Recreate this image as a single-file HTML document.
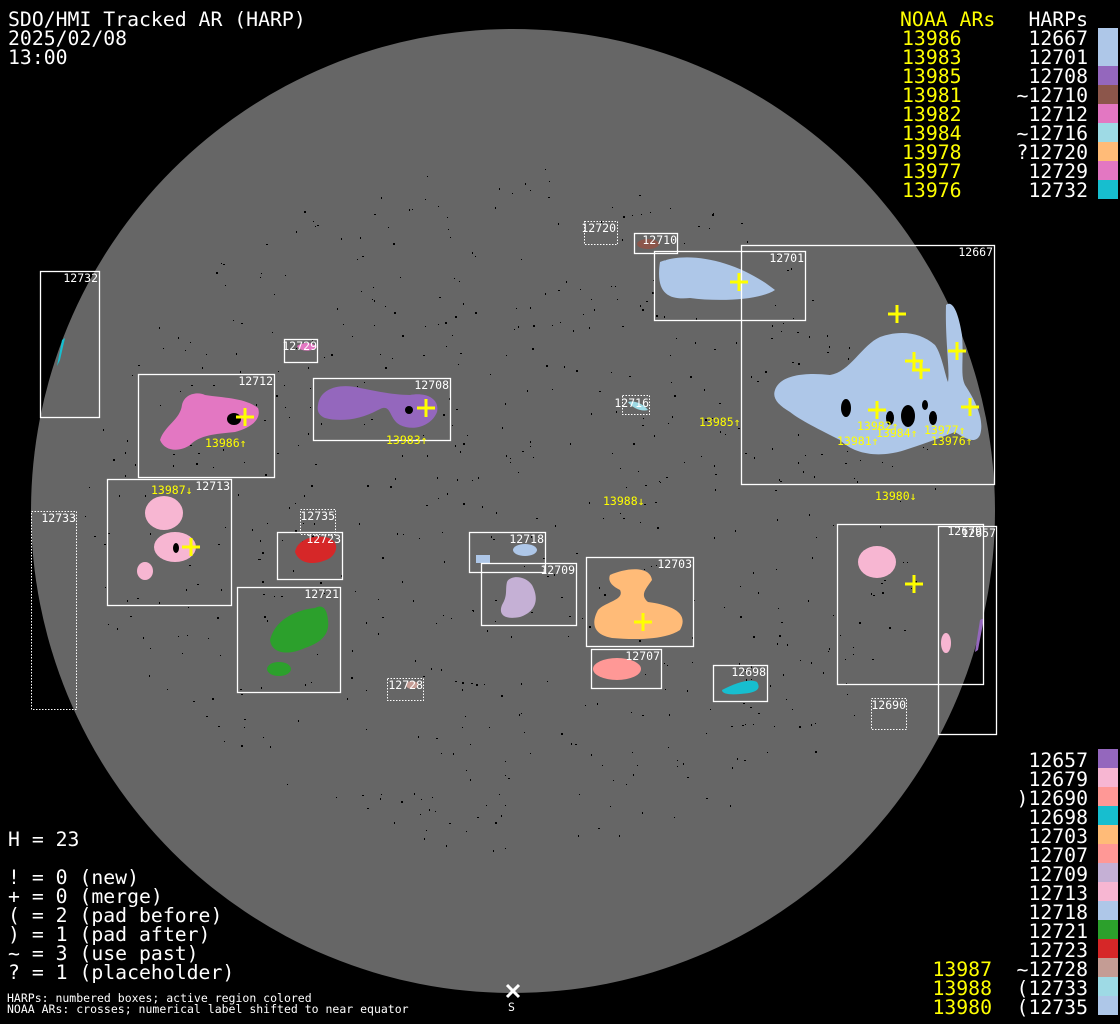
<!DOCTYPE html>
<html><head><meta charset="utf-8"><style>
html,body{margin:0;padding:0;background:#000;}
svg{display:block;}
text{font-family:"DejaVu Sans Mono","Liberation Mono",monospace;}
.b{font-size:11.5px;fill:#fff;text-anchor:end;}
.y{font-size:11.5px;fill:#ff0;}
.L{font-size:19.8px;}
</style></head><body>
<svg id="s" width="1120" height="1024" viewBox="0 0 1120 1024" xmlns="http://www.w3.org/2000/svg">
<rect width="1120" height="1024" fill="#000"/>
<circle cx="513" cy="511" r="482" fill="#666"/>
<g id="dots" fill="#000"></g>

<!-- blobs -->
<g>
<path d="M57,366 L62,340 L65,338 L60,360 Z" fill="#17becf"/>
<path d="M660,262 C690,250 740,262 775,290 C760,300 720,302 690,298 C670,300 655,295 660,262 Z" fill="#aec7e8"/>
<ellipse cx="648" cy="244" rx="11" ry="5" fill="#8c564b"/>
<path d="M775,390 C780,375 805,372 830,375 C850,372 862,345 880,337 C900,330 920,332 935,345 C942,355 945,375 948,382 C950,370 945,340 946,305 C952,300 958,310 962,335 C964,360 960,375 965,385 C975,400 985,420 980,435 C975,445 965,438 955,432 C935,440 920,445 905,450 C880,458 855,455 840,440 C820,430 800,420 790,412 C778,405 772,398 775,390 Z" fill="#aec7e8"/>
<path d="M297,346 C305,341 313,343 317,347 C312,352 300,352 297,346 Z" fill="#e377c2"/>
<path d="M160,440 C165,425 180,420 182,405 C185,392 200,392 205,395 C225,398 245,398 258,408 C262,420 250,428 235,432 C215,434 200,435 190,445 C180,452 165,452 160,440 Z" fill="#e377c2"/>
<path d="M318,405 C320,388 340,383 360,388 C380,392 395,395 410,395 C425,392 440,398 437,412 C432,425 415,432 400,425 C388,418 392,402 378,410 C360,420 340,422 325,418 C318,415 317,410 318,405 Z" fill="#9467bd"/>
<path d="M628,402 C634,400 644,404 648,410 C642,412 632,408 628,402 Z" fill="#9edae5"/>
<ellipse cx="164" cy="513" rx="19" ry="17" fill="#f7b6d2"/>
<ellipse cx="175" cy="547" rx="21" ry="15" fill="#f7b6d2"/>
<ellipse cx="145" cy="571" rx="8" ry="9" fill="#f7b6d2"/>
<path d="M295,552 C297,540 312,535 325,537 C340,540 338,552 330,558 C318,565 300,566 295,552 Z" fill="#d62728"/>
<path d="M270,640 C275,620 295,610 315,608 C322,604 327,608 328,620 C330,635 320,643 305,648 C290,655 272,655 270,640 Z" fill="#2ca02c"/>
<ellipse cx="279" cy="669" rx="12" ry="7" fill="#2ca02c"/>
<ellipse cx="525" cy="550" rx="12" ry="6" fill="#aec7e8"/>
<rect x="476" y="555" width="14" height="8" fill="#aec7e8"/>
<path d="M507,582 C510,575 525,575 532,585 C540,600 535,612 520,617 C505,620 498,615 502,605 C508,595 505,590 507,582 Z" fill="#c5b0d5"/>
<path d="M610,575 C625,568 650,565 652,580 C645,590 640,595 648,602 C670,605 690,612 680,630 C665,640 635,640 612,638 C595,635 590,625 598,610 C605,602 625,600 620,590 C610,585 608,580 610,575 Z" fill="#ffbb78"/>
<ellipse cx="617" cy="669" rx="24" ry="11" fill="#ff9896"/>
<path d="M722,690 C735,683 750,678 757,682 C762,690 755,693 740,694 C730,695 722,694 722,690 Z" fill="#17becf"/>
<ellipse cx="877" cy="562" rx="19" ry="16" fill="#f7b6d2"/>
<ellipse cx="946" cy="643" rx="5" ry="10" fill="#f7b6d2"/>
<path d="M975,652 L980,620 L984,618 L978,650 Z" fill="#9467bd"/>
<ellipse cx="412" cy="685" rx="6" ry="4" fill="#c49c94"/>
<!-- sunspots -->
<ellipse cx="234" cy="419" rx="7" ry="6" fill="#000"/>
<ellipse cx="409" cy="410" rx="4" ry="4" fill="#000"/>
<ellipse cx="846" cy="408" rx="5" ry="9" fill="#000"/>
<ellipse cx="908" cy="416" rx="7" ry="11" fill="#000"/>
<ellipse cx="890" cy="418" rx="4" ry="7" fill="#000"/>
<ellipse cx="925" cy="405" rx="3" ry="5" fill="#000"/>
<ellipse cx="933" cy="418" rx="4" ry="7" fill="#000"/>
<ellipse cx="176" cy="548" rx="3" ry="5" fill="#000"/>
</g>

<!-- boxes -->
<g fill="none" stroke="#fff" stroke-width="1.3">
<rect x="40.5" y="271.5" width="59" height="146"/>
<rect x="634.5" y="233.5" width="43" height="20"/>
<rect x="654.5" y="251.5" width="151" height="69"/>
<rect x="741.5" y="245.5" width="253" height="239"/>
<rect x="284.5" y="339.5" width="33" height="23"/>
<rect x="138.5" y="374.5" width="136" height="103"/>
<rect x="313.5" y="378.5" width="137" height="62"/>
<rect x="107.5" y="479.5" width="124" height="126"/>
<rect x="277.5" y="532.5" width="65" height="47"/>
<rect x="469.5" y="532.5" width="76" height="40"/>
<rect x="481.5" y="563.5" width="95" height="62"/>
<rect x="586.5" y="557.5" width="107" height="89"/>
<rect x="237.5" y="587.5" width="103" height="105"/>
<rect x="591.5" y="649.5" width="70" height="39"/>
<rect x="713.5" y="665.5" width="54" height="36"/>
<rect x="837.5" y="524.5" width="146" height="160"/>
<rect x="938.5" y="526.5" width="58" height="208"/>
</g>
<g fill="none" stroke="#fff" stroke-width="1" stroke-dasharray="1.5,1.5">
<rect x="31.5" y="511.5" width="45" height="198"/>
<rect x="584.5" y="221.5" width="33" height="23"/>
<rect x="622.5" y="395.5" width="27" height="19"/>
<rect x="300.5" y="509.5" width="35" height="25"/>
<rect x="387.5" y="678.5" width="36" height="22"/>
<rect x="871.5" y="698.5" width="35" height="31"/>
</g>
<g class="b">
<text x="98" y="282">12732</text>
<text x="76" y="522">12733</text>
<text x="616" y="232">12720</text>
<text x="677" y="244">12710</text>
<text x="804" y="262">12701</text>
<text x="993" y="256">12667</text>
<text x="317" y="350">12729</text>
<text x="273" y="385">12712</text>
<text x="449" y="389">12708</text>
<text x="649" y="407">12716</text>
<text x="230" y="490">12713</text>
<text x="335" y="520">12735</text>
<text x="341" y="543">12723</text>
<text x="544" y="543">12718</text>
<text x="575" y="574">12709</text>
<text x="692" y="568">12703</text>
<text x="339" y="598">12721</text>
<text x="660" y="660">12707</text>
<text x="423" y="689">12728</text>
<text x="766" y="676">12698</text>
<text x="906" y="709">12690</text>
<text x="982" y="535">12679</text>
<text x="996" y="537">12657</text>
</g>
<!-- crosses -->
<g stroke="#ff0" stroke-width="3">
<path d="M730,282h18M739,273v18"/>
<path d="M888,314h18M897,305v18"/>
<path d="M905,361h18M914,352v18"/>
<path d="M912,370h18M921,361v18"/>
<path d="M948,351h18M957,342v18"/>
<path d="M961,407h18M970,398v18"/>
<path d="M868,410h18M877,401v18"/>
<path d="M236,417h18M245,408v18"/>
<path d="M417,408h18M426,399v18"/>
<path d="M182,547h18M191,538v18"/>
<path d="M905,584h18M914,575v18"/>
<path d="M634,622h18M643,613v18"/>
</g>
<g class="y">
<text x="205" y="447">13986↑</text>
<text x="386" y="444">13983↑</text>
<text x="699" y="426">13985↑</text>
<text x="151" y="494">13987↓</text>
<text x="603" y="505">13988↓</text>
<text x="875" y="500">13980↓</text>
<text x="857" y="430">13982↑</text>
<text x="876" y="437">13984↑</text>
<text x="924" y="434">13977↑</text>
<text x="837" y="445">13981↑</text>
<text x="931" y="445">13976↑</text>
</g>

<!-- title -->
<g class="L" fill="#fff">
<text x="8" y="26">SDO/HMI Tracked AR (HARP)</text>
<text x="8" y="45">2025/02/08</text>
<text x="8" y="64">13:00</text>
<text x="8" y="846">H = 23</text>
<text x="8" y="884">! = 0 (new)</text>
<text x="8" y="903">+ = 0 (merge)</text>
<text x="8" y="922">( = 2 (pad before)</text>
<text x="8" y="941">) = 1 (pad after)</text>
<text x="8" y="960">~ = 3 (use past)</text>
<text x="8" y="979">? = 1 (placeholder)</text>
</g>
<g fill="#fff" style="font-size:11.5px">
<text x="7" y="1002">HARPs: numbered boxes; active region colored</text>
<text x="7" y="1013">NOAA ARs: crosses; numerical label shifted to near equator</text>
<text x="508" y="1011">S</text>
</g>
<path d="M507,985l12,12M519,985l-12,12" stroke="#fff" stroke-width="3"/>

<!-- top legend -->
<g class="L">
<text x="900" y="26" fill="#ff0">NOAA ARs</text>
<text x="1088" y="26" fill="#fff" text-anchor="end">HARPs</text>
<g fill="#ff0">
<text x="902" y="45">13986</text><text x="902" y="64">13983</text><text x="902" y="83">13985</text>
<text x="902" y="102">13981</text><text x="902" y="121">13982</text><text x="902" y="140">13984</text>
<text x="902" y="159">13978</text><text x="902" y="178">13977</text><text x="902" y="197">13976</text>
</g>
<g fill="#fff" text-anchor="end">
<text x="1088" y="45">12667</text><text x="1088" y="64">12701</text><text x="1088" y="83">12708</text>
<text x="1088" y="102">~12710</text><text x="1088" y="121">12712</text><text x="1088" y="140">~12716</text>
<text x="1088" y="159">?12720</text><text x="1088" y="178">12729</text><text x="1088" y="197">12732</text>
</g>
<g fill="#fff" text-anchor="end">
<text x="1088" y="767">12657</text><text x="1088" y="786">12679</text><text x="1088" y="805">)12690</text>
<text x="1088" y="824">12698</text><text x="1088" y="843">12703</text><text x="1088" y="862">12707</text>
<text x="1088" y="881">12709</text><text x="1088" y="900">12713</text><text x="1088" y="919">12718</text>
<text x="1088" y="938">12721</text><text x="1088" y="957">12723</text><text x="1088" y="976">~12728</text>
<text x="1088" y="995">(12733</text><text x="1088" y="1014">(12735</text>
</g>
<g fill="#ff0" text-anchor="end">
<text x="992" y="976">13987</text><text x="992" y="995">13988</text><text x="992" y="1014">13980</text>
</g>
</g>
<g>
<rect x="1098" y="28" width="20" height="38" fill="#aec7e8"/>
<rect x="1098" y="66" width="20" height="19" fill="#9467bd"/>
<rect x="1098" y="85" width="20" height="19" fill="#8c564b"/>
<rect x="1098" y="104" width="20" height="19" fill="#e377c2"/>
<rect x="1098" y="123" width="20" height="19" fill="#9edae5"/>
<rect x="1098" y="142" width="20" height="19" fill="#ffbb78"/>
<rect x="1098" y="161" width="20" height="19" fill="#e377c2"/>
<rect x="1098" y="180" width="20" height="19" fill="#17becf"/>
<rect x="1098" y="749" width="20" height="19" fill="#9467bd"/>
<rect x="1098" y="768" width="20" height="19" fill="#f7b6d2"/>
<rect x="1098" y="787" width="20" height="19" fill="#ff9896"/>
<rect x="1098" y="806" width="20" height="19" fill="#17becf"/>
<rect x="1098" y="825" width="20" height="19" fill="#ffbb78"/>
<rect x="1098" y="844" width="20" height="19" fill="#ff9896"/>
<rect x="1098" y="863" width="20" height="19" fill="#c5b0d5"/>
<rect x="1098" y="882" width="20" height="19" fill="#f7b6d2"/>
<rect x="1098" y="901" width="20" height="19" fill="#aec7e8"/>
<rect x="1098" y="920" width="20" height="19" fill="#2ca02c"/>
<rect x="1098" y="939" width="20" height="19" fill="#d62728"/>
<rect x="1098" y="958" width="20" height="19" fill="#c49c94"/>
<rect x="1098" y="977" width="20" height="19" fill="#9edae5"/>
<rect x="1098" y="996" width="20" height="19" fill="#aec7e8"/>
</g>
</svg>
<script>
(function(){
var g=document.getElementById('dots'),s=12345,h='';
function r(){s=(s*1103515245+12345)&0x7fffffff;return s/0x7fffffff;}
for(var i=0;i<650;i++){
var a=r()*6.2832,d=Math.sqrt(r())*430;
var x=513+Math.cos(a)*d,y=511+Math.sin(a)*d*0.8;
h+='<rect x="'+x.toFixed(0)+'" y="'+y.toFixed(0)+'" width="'+(r()<0.3?2:1)+'" height="'+(r()<0.4?2:1)+'"/>';
}
g.innerHTML=h;
})();
</script>
</body></html>
